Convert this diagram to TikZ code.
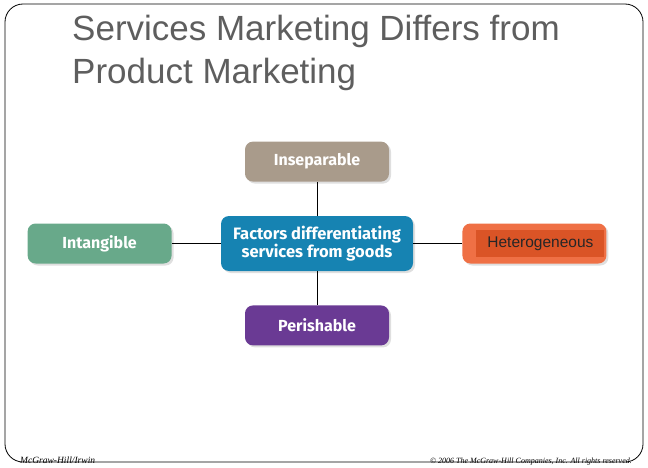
\documentclass[tikz,border=0pt]{standalone}
\usepackage{fontspec}
\setmainfont{Liberation Sans}
\newfontfamily\boxfont{Fira Sans}
\newfontfamily\footfont{Liberation Serif}
\usetikzlibrary{positioning,shadows}

\definecolor{titlegray}{HTML}{5E5E5E}
\definecolor{taupe}{HTML}{A99B8B}
\definecolor{hubblue}{HTML}{1683B2}
\definecolor{sagegreen}{HTML}{68A98A}
\definecolor{plum}{HTML}{6A3A94}
\definecolor{heteroorange}{HTML}{EF7045}
\definecolor{heterodark}{HTML}{DA5426}

\begin{document}
\begin{tikzpicture}[
    x=1pt, y=-1pt,
    node distance=34pt and 49pt,
    factor/.style={rounded corners=8pt, text=white, align=center,
      font=\boxfont\bfseries\fontsize{16}{18}\selectfont,
      minimum width=144pt, minimum height=40pt, inner sep=2pt,
      drop shadow={shadow xshift=2pt, shadow yshift=-2pt, opacity=.25}},
    hub/.style={factor, fill=hubblue, minimum width=192pt, minimum height=55pt,
      font=\boxfont\bfseries\fontsize{16.5}{18}\selectfont},
    link/.style={line width=0.8pt},
    footer/.style={inner sep=0pt, font=\footfont\itshape\fontsize{#1}{9}\selectfont}
]
\useasboundingbox (0,0) rectangle (648,468);

% ---------- slide frame, title, footer ----------
\draw[line width=0.8pt, rounded corners=18pt] (5,4) rectangle (643,462);
\node[anchor=base west, align=left, text=titlegray, inner sep=0pt,
  font=\fontsize{35}{43}\selectfont] (title) at (72,84)
  {Services Marketing Differs from\\Product Marketing};
\node[footer=9.5, anchor=base west] (imprint) at (20,463) {McGraw-Hill/Irwin};
\node[footer=8, anchor=base east] (rights) at (632,463)
  {\copyright{} 2006 The McGraw-Hill Companies, Inc. All rights reserved.};

% ---------- hub and factors ----------
\node[hub] (hub) at (317,243.5) {Factors differentiating\\services from goods};
\node[factor, fill=taupe, above=of hub] (insep) {Inseparable};
\node[factor, fill=plum, below=of hub] (perish) {Perishable};
\node[factor, fill=sagegreen, left=of hub] (intang) {Intangible};
\node[factor, fill=heteroorange, right=of hub] (hetero) {};
\node[fill=heterodark, minimum width=128pt, minimum height=27pt, inner sep=0pt,
  text=black!85, font=\fontsize{15.5}{18}\selectfont]
  (heterolabel) at ([xshift=6pt]hetero.center) {Heterogeneous};

% ---------- connectors ----------
\draw[link] (insep) -- (hub);
\draw[link] (hub) -- (perish);
\draw[link] (intang) -- (hub);
\draw[link] (hub) -- (hetero);

\end{tikzpicture}
\end{document}
